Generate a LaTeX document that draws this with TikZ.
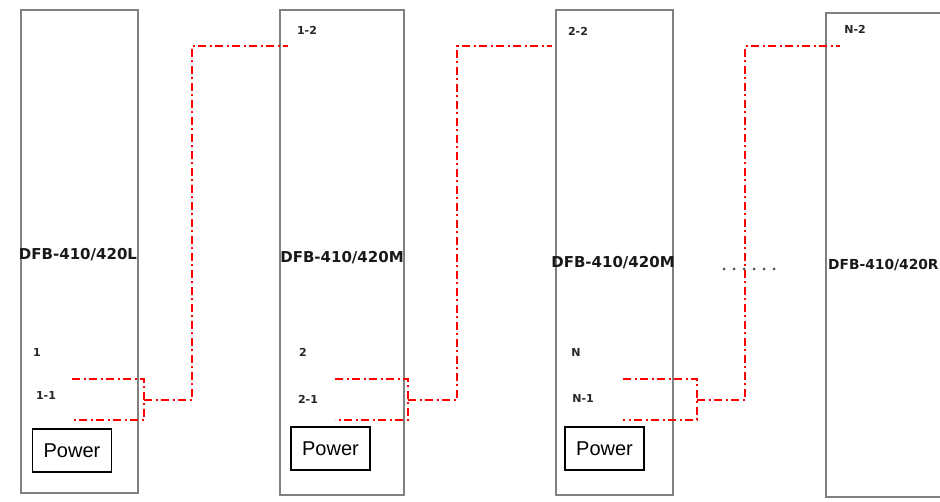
\documentclass[tikz,border=0pt]{standalone}
\usepackage{fontspec}
\setmainfont{Liberation Sans}
\newfontfamily\dvfont{DejaVu Sans}
\begin{document}
\begin{tikzpicture}[x=1pt,y=1pt,
  unit/.style={draw=black!50,line width=1.8pt,rectangle,inner sep=0pt},
  powerbox/.style={draw=black,line width=1.4pt,rectangle,inner sep=0pt,minimum width=79pt,minimum height=43pt,font=\fontsize{20}{22}\selectfont},
  port/.style={font=\dvfont\bfseries\fontsize{11}{13}\selectfont,text=black!85,inner sep=0pt},
  model/.style={font=\dvfont\bfseries\fontsize{15}{17}\selectfont,text=black!90,inner sep=0pt},
  link/.style={draw=red,line width=1.8pt,dash pattern=on 8pt off 3.5pt on 2pt off 3.5pt}]
\clip (0,0) rectangle (940,501);
\fill[white] (0,0) rectangle (940,501);
% units
\node[unit,minimum width=117pt,minimum height=483pt] (u1) at (79.5,249.5) {};
\node[unit,minimum width=124pt,minimum height=485pt] (u2) at (342,248.5) {};
\node[unit,minimum width=117pt,minimum height=485pt] (u3) at (614.5,248.5) {};
\node[unit,minimum width=140pt,minimum height=484pt] (u4) at (896,246) {};
% model labels
\node[model] (m1) at (78,246) {DFB-410/420L};
\node[model] (m2) at (342,243) {DFB-410/420M};
\node[model] (m3) at (613,238) {DFB-410/420M};
\node[model,anchor=west,font=\dvfont\bfseries\fontsize{13.8}{16}\selectfont] (m4) at (828,236) {DFB-410/420R};
% power boxes
\node[powerbox] (p1) at (72,50.5) {Power};
\node[powerbox] (p2) at (330.5,52.5) {Power};
\node[powerbox] (p3) at (604.5,52.5) {Power};
% port labels
\node[port] (a1) at (37,149) {1};
\node[port] (a11) at (46,106) {1-1};
\node[port] (a2) at (303,149) {2};
\node[port] (a21) at (308,102) {2-1};
\node[port] (a3) at (576,149) {N};
\node[port] (a31) at (583,103) {N-1};
\node[port] (b12) at (307,471) {1-2};
\node[port] (b22) at (578,470) {2-2};
\node[port] (bn2) at (855,472) {N-2};
% ellipsis dots
\foreach \i in {0,...,5} \fill[black!70] (724+10*\i,232) circle (1.5pt);
% connector points
\coordinate (c1a) at (72,122); \coordinate (c1b) at (144,122);
\coordinate (c1c) at (144,81); \coordinate (c1d) at (72,81);
\coordinate (c1m) at (144,101); \coordinate (c1e) at (192,101);
\coordinate (c1f) at (192,455); \coordinate (c1g) at (288,455);
\coordinate (c2a) at (335,122); \coordinate (c2b) at (408,122);
\coordinate (c2c) at (408,81); \coordinate (c2d) at (335,81);
\coordinate (c2m) at (408,101); \coordinate (c2e) at (457,101);
\coordinate (c2f) at (457,455); \coordinate (c2g) at (552,455);
\coordinate (c3a) at (623,122); \coordinate (c3b) at (697,122);
\coordinate (c3c) at (697,81); \coordinate (c3d) at (623,81);
\coordinate (c3m) at (697,101); \coordinate (c3e) at (745,101);
\coordinate (c3f) at (745,455); \coordinate (c3g) at (840,455);
% links
\draw[link] (c1a) -- (c1b) -- (c1c) -- (c1d);
\draw[link] (c1m) -- (c1e) -- (c1f) -- (c1g);
\draw[link] (c2a) -- (c2b) -- (c2c) -- (c2d);
\draw[link] (c2m) -- (c2e) -- (c2f) -- (c2g);
\draw[link] (c3a) -- (c3b) -- (c3c) -- (c3d);
\draw[link] (c3m) -- (c3e) -- (c3f) -- (c3g);
\end{tikzpicture}
\end{document}
